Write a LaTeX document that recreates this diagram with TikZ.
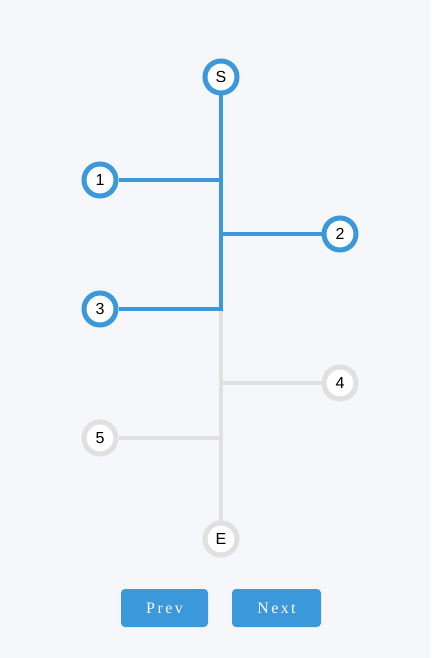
\documentclass[tikz,border=0pt]{standalone}
\usepackage{fontspec}
\setmainfont{Liberation Sans}
\newfontfamily\btnfont[LetterSpace=15]{Liberation Serif}
\usepackage{tikz}
\pgfdeclarelayer{lines}
\pgfsetlayers{lines,main}
\definecolor{pagebg}{RGB}{245,247,251}
\definecolor{stepblue}{RGB}{58,152,219}
\definecolor{stepgray}{RGB}{224,224,224}
\tikzset{
  stepnode/.style = {circle, inner sep=0pt, minimum size=32pt, line width=5pt,
    fill=white, text=black, font=\fontsize{16}{18}\selectfont},
  done_node/.style = {stepnode, draw=stepblue},% etape faite
  todo_node/.style = {stepnode, draw=stepgray},% etape a faire
  done_line/.style = {draw=stepblue, line width=4pt},
  todo_line/.style = {draw=stepgray, line width=4pt},
  btn_node/.style = {rectangle, rounded corners=4pt, fill=stepblue, text=white,
    minimum width=87pt, minimum height=38pt, inner sep=0pt,
    font=\btnfont\fontsize{16}{18}\selectfont}
}
\begin{document}
\begin{tikzpicture}[x=1pt, y=-1pt]
  \begin{pgfonlayer}{lines}
  \fill[pagebg] (0,0) rectangle (431,658);
  \end{pgfonlayer}
  \useasboundingbox (0,0) rectangle (431,658);
  % etapes
  \node [done_node] (start) at (221,77) {S};
  \node [done_node] (s1) at (100,180) {1};
  \node [done_node] (s2) at (340,234) {2};
  \node [done_node] (s3) at (100,309) {3};
  \node [todo_node] (s4) at (340,383) {4};
  \node [todo_node] (s5) at (100,438) {5};
  \node [todo_node] (end) at (221,539) {E};
  % points du tronc
  \coordinate (j1) at (start |- s1);
  \coordinate (j2) at (start |- s2);
  \coordinate (j3) at (start |- s3);
  \coordinate (j4) at (start |- s4);
  \coordinate (j5) at (start |- s5);
  % traits
  \begin{pgfonlayer}{lines}
  \path [todo_line] (j3) -- (end.north);
  \path [todo_line] (j4) -- (s4.west);
  \path [todo_line] (j5) -- (s5.east);
  \path [done_line] (start.south) -- ([yshift=2pt]j3);
  \path [done_line] (j1) -- (s1.east);
  \path [done_line] (j2) -- (s2.west);
  \path [done_line] ([xshift=2pt]j3) -- (s3.east);
  \end{pgfonlayer}
  % boutons
  \node [btn_node] (prev) at (164.5,608) {Prev};
  \node [btn_node, minimum width=89pt] (next) at (276.5,608) {Next};
\end{tikzpicture}
\end{document}
